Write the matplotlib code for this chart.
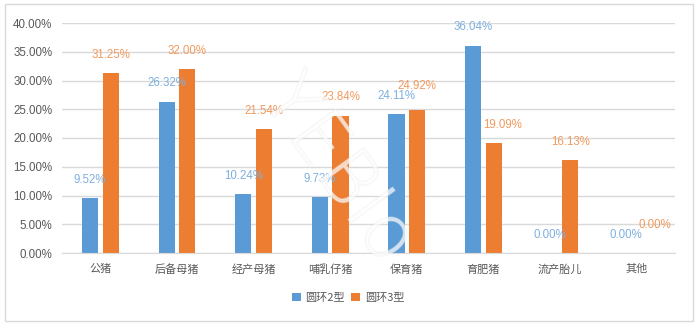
import numpy as np
import matplotlib.pyplot as plt
import matplotlib.patheffects as pe
from matplotlib.patches import Rectangle

plt.rcParams['font.family'] = ['Noto Sans CJK SC', 'DejaVu Sans']

categories = ['公猪', '后备母猪', '经产母猪', '哺乳仔猪', '保育猪', '育肥猪', '流产胎儿', '其他']
pcv2 = [9.52, 26.32, 10.24, 9.73, 24.11, 36.04, 0.00, 0.00]
pcv3 = [31.25, 32.00, 21.54, 23.84, 24.92, 19.09, 16.13, 0.00]
yticks = [0, 5, 10, 15, 20, 25, 30, 35, 40]

blue = '#5b9bd5'
orange = '#ed7d31'
blue_txt = '#7fb0de'
orange_txt = '#f19a5e'
grey = '#595959'
num_font = 'Liberation Sans'

fig = plt.figure(figsize=(7, 3.26), dpi=100)
ax = fig.add_axes([62 / 700, 1 - 253 / 326, 613 / 700, 230 / 326])

x = np.arange(len(categories))
w = 0.21
ax.bar(x - 0.135, pcv2, w, color=blue, label='圆环2型', zorder=2)
ax.bar(x + 0.135, pcv3, w, color=orange, label='圆环3型', zorder=2)

# label offsets (points) for the few labels that sit apart from their bars
shift3 = {'保育猪': (0, 13), '育肥猪': (6, 9), '其他': (6, 16)}
for i, c in enumerate(categories):
    ax.annotate(f'{pcv2[i]:.2f}%', (x[i] - 0.135, pcv2[i]), xytext=(0, 9),
                textcoords='offset points', ha='center', va='bottom',
                fontsize=8.3, color=blue_txt, family=num_font)
    ax.annotate(f'{pcv3[i]:.2f}%', (x[i] + 0.135, pcv3[i]),
                xytext=shift3.get(c, (0, 9)),
                textcoords='offset points', ha='center', va='bottom',
                fontsize=8.3, color=orange_txt, family=num_font)

ax.set_xlim(-0.5, len(categories) - 0.5)
ax.set_ylim(0, 40)
ax.set_yticks(yticks)
ax.set_yticklabels([f'{v:.2f}%' for v in yticks], fontsize=8.3, color=grey,
                   family=num_font)
ax.set_xticks(x)
ax.set_xticklabels(categories, fontsize=8, color=grey)
ax.tick_params(length=0, pad=7)
ax.tick_params(axis='x', pad=8)
ax.grid(axis='y', color='#d9d9d9', linewidth=1, zorder=0)
for s in ['top', 'right', 'left']:
    ax.spines[s].set_visible(False)
ax.spines['bottom'].set_color('#d9d9d9')

fig.legend(loc='center', bbox_to_anchor=(348 / 700, 1 - 298 / 326), ncol=2,
           frameon=False, fontsize=8, handlelength=0.8, handleheight=0.8,
           handletextpad=0.4, columnspacing=0.6, labelcolor=grey)

# faint diagonal watermark
fig.text(338 / 700, 1 - 170 / 326, 'YEBIo', fontsize=54, rotation=-54,
         color='white', alpha=0.45, ha='center', va='center',
         family='DejaVu Sans', fontweight='light', zorder=5,
         path_effects=[pe.withStroke(linewidth=1.2, foreground='#ececec')])

fig.patches.append(Rectangle((5 / 700, 1 - 321 / 326), 688 / 700, 317 / 326,
                             transform=fig.transFigure, fill=False,
                             edgecolor='#d9d9d9', linewidth=1))

fig.savefig('out.png', dpi=100)
